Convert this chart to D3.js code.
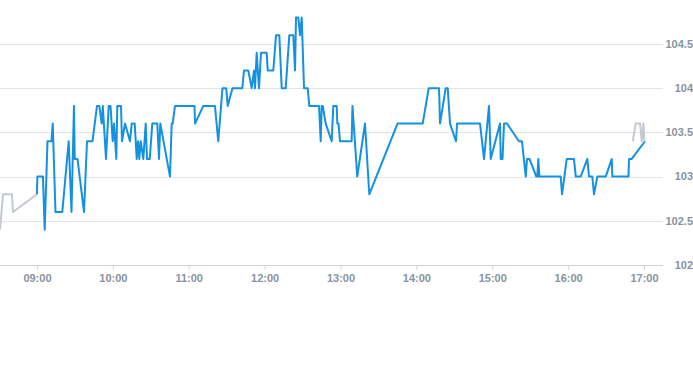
<!DOCTYPE html>
<html>
<head>
<meta charset="utf-8">
<script src="https://cdn.jsdelivr.net/npm/d3@7"></script>
<style>
  body { margin: 0; background: #fff; }
  text { font-family: "Liberation Sans", Arial, sans-serif; }
</style>
</head>
<body>
<div id="chart"></div>
<script>
// pre-market (grey)
const preTimes = ["08:30:47", "08:33:10", "08:40:17", "08:41:04", "09:00:00"];
const preValues = [102.4, 102.8, 102.8, 102.6, 102.8];

// main session (blue)
const mainTimes = [
  "09:00:00", "09:00:20", "09:04:45", "09:06:08", "09:08:20", "09:11:30", "09:12:28", "09:14:40",
  "09:20:03", "09:25:06", "09:27:19", "09:29:17", "09:29:51", "09:32:04", "09:37:12", "09:39:35",
  "09:43:56", "09:47:29", "09:49:18", "09:51:12", "09:52:04", "09:54:36", "09:56:44", "09:58:10",
  "09:59:54", "10:00:56", "10:02:45", "10:03:32", "10:06:28", "10:07:15", "10:09:38", "10:13:35",
  "10:14:56", "10:17:18", "10:18:53", "10:19:55", "10:20:56", "10:22:03", "10:24:06", "10:26:00",
  "10:27:02", "10:29:11", "10:31:13", "10:35:10", "10:36:30", "10:37:32", "10:45:12", "10:46:33",
  "10:47:20", "10:49:10", "11:04:35", "11:05:00", "11:11:32", "11:20:45", "11:23:22", "11:26:42",
  "11:29:38", "11:30:49", "11:34:36", "11:42:22", "11:43:42", "11:47:06", "11:49:47", "11:51:36",
  "11:52:24", "11:53:45", "11:55:34", "11:57:09", "12:01:40", "12:02:28", "12:06:54", "12:09:02",
  "12:11:38", "12:13:32", "12:16:42", "12:19:32", "12:22:42", "12:24:03", "12:24:50", "12:26:40",
  "12:28:00", "12:29:21", "12:31:10", "12:34:05", "12:35:21", "12:43:01", "12:44:22", "12:45:09",
  "12:45:57", "12:48:19", "12:53:04", "12:54:20", "12:57:00", "12:57:29", "12:58:26", "12:59:37",
  "13:08:50", "13:09:28", "13:13:16", "13:19:22", "13:22:46", "13:45:06", "14:05:00", "14:09:46",
  "14:17:55", "14:18:42", "14:23:12", "14:24:47", "14:26:36", "14:31:21", "14:32:09", "14:50:20",
  "14:53:29", "14:57:26", "14:58:46", "15:06:08", "15:06:41", "15:08:06", "15:09:18", "15:11:40",
  "15:21:07", "15:23:29", "15:26:30", "15:27:28", "15:29:27", "15:34:49", "15:35:37", "15:36:25",
  "15:37:13", "15:54:06", "15:55:10", "15:58:53", "16:04:38", "16:06:00", "16:09:57", "16:15:10",
  "16:16:31", "16:19:07", "16:20:28", "16:23:05", "16:29:44", "16:34:29", "16:34:57", "16:47:43",
  "16:48:07", "16:50:16", "17:00:45"
];
const mainValues = [
  102.8, 103.0, 103.0, 102.4, 103.4, 103.4, 103.6, 102.6,
  102.6, 103.4, 102.6, 103.8, 103.2, 103.2, 102.6, 103.4,
  103.4, 103.8, 103.8, 103.6, 103.8, 103.2, 103.8, 103.8,
  103.4, 103.6, 103.2, 103.8, 103.8, 103.4, 103.6, 103.4,
  103.6, 103.6, 103.2, 103.4, 103.2, 103.4, 103.2, 103.6,
  103.2, 103.2, 103.6, 103.6, 103.2, 103.6, 103.0, 103.6,
  103.6, 103.8, 103.8, 103.6, 103.8, 103.8, 103.4, 104.0,
  104.0, 103.8, 104.0, 104.0, 104.2, 104.2, 104.0, 104.2,
  104.0, 104.4, 104.0, 104.4, 104.4, 104.2, 104.2, 104.6,
  104.6, 104.0, 104.0, 104.6, 104.6, 104.2, 104.8, 104.8,
  104.6, 104.8, 104.0, 104.0, 103.8, 103.8, 103.4, 103.8,
  103.8, 103.6, 103.4, 103.8, 103.8, 103.6, 103.6, 103.4,
  103.4, 103.8, 103.0, 103.6, 102.8, 103.6, 103.6, 104.0,
  104.0, 103.6, 104.0, 104.0, 103.6, 103.4, 103.6, 103.6,
  103.2, 103.8, 103.2, 103.6, 103.2, 103.2, 103.6, 103.6,
  103.4, 103.4, 103.0, 103.2, 103.2, 103.0, 103.0, 103.2,
  103.0, 103.0, 102.8, 103.2, 103.2, 103.0, 103.0, 103.2,
  103.0, 103.0, 102.8, 103.0, 103.0, 103.2, 103.0, 103.0,
  103.2, 103.2, 103.4
];

// post-market (grey)
const postTimes = ["16:51:05", "16:53:26", "16:56:52", "16:58:12", "16:59:29", "17:00:18"];
const postValues = [103.4, 103.6, 103.6, 103.4, 103.6, 103.4];

const xTicks = ["09:00", "10:00", "11:00", "12:00", "13:00", "14:00", "15:00", "16:00", "17:00"];
const yTicks = [102, 102.5, 103, 103.5, 104, 104.5];

const width = 693;
const height = 365;
const plotRight = 663;
const plotBottom = 265;
const labelColor = "#8793a0";

const parseT = d3.timeParse("%H:%M:%S");
const parseTick = d3.timeParse("%H:%M");

const svg = d3.select("#chart")
  .append("svg")
  .attr("width", width)
  .attr("height", height);

const x = d3.scaleTime()
  .domain([parseT("08:30:00"), parseT("17:15:00")])
  .range([-1, plotRight]);

const y = d3.scaleLinear()
  .domain([102, 104.5])
  .range([plotBottom, 44]);

// gridlines
svg.append("g")
  .selectAll("line")
  .data(yTicks.filter(d => d !== 102))
  .join("line")
    .attr("x1", 0)
    .attr("x2", plotRight)
    .attr("y1", d => Math.round(y(d)) + 0.5)
    .attr("y2", d => Math.round(y(d)) + 0.5)
    .attr("stroke", "#e2e4e7")
    .attr("stroke-width", 1);

// y labels on the right
svg.append("g")
  .selectAll("text")
  .data(yTicks)
  .join("text")
    .attr("x", 693)
    .attr("y", d => y(d))
    .attr("dy", "0.35em")
    .attr("text-anchor", "end")
    .attr("font-size", "11px")
    .attr("font-weight", "bold")
    .attr("fill", labelColor)
    .text(d => d3.format("~")(d));

// x axis
const xAxis = g => g
  .attr("transform", `translate(0,${plotBottom + 0.5})`)
  .call(d3.axisBottom(x)
    .tickValues(xTicks.map(parseTick))
    .tickFormat(d3.timeFormat("%H:%M"))
    .tickSize(4)
    .tickPadding(5)
    .tickSizeOuter(0))
  .call(g => g.select(".domain").attr("stroke", "#ccd3da").attr("d", `M0,0H${plotRight}`))
  .call(g => g.selectAll(".tick line").attr("stroke", "#ccd3da"))
  .call(g => g.selectAll(".tick text")
    .attr("fill", labelColor)
    .attr("font-size", "11px")
    .attr("font-weight", "bold")
    .attr("font-family", "'Liberation Sans', Arial, sans-serif"));

svg.append("g").call(xAxis);

const line = d3.line()
  .x(d => x(d.t))
  .y(d => y(d.v));

const toPoints = (times, values) => times.map((t, i) => ({ t: parseT(t), v: values[i] }));

svg.append("path")
  .datum(toPoints(preTimes, preValues))
  .attr("fill", "none")
  .attr("stroke", "#c3c9d0")
  .attr("stroke-width", 2)
  .attr("stroke-linejoin", "round")
  .attr("d", line);

svg.append("path")
  .datum(toPoints(mainTimes, mainValues))
  .attr("fill", "none")
  .attr("stroke", "#1491e1")
  .attr("stroke-width", 2)
  .attr("stroke-linejoin", "round")
  .attr("d", line);

svg.append("path")
  .datum(toPoints(postTimes, postValues))
  .attr("fill", "none")
  .attr("stroke", "#c3c9d0")
  .attr("stroke-width", 2)
  .attr("stroke-linejoin", "round")
  .attr("d", line);
</script>
</body>
</html>
